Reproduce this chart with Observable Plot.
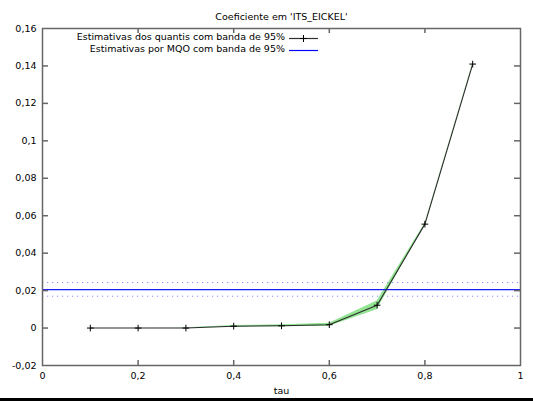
<!DOCTYPE html>
<html><head><meta charset="utf-8">
<script src="https://cdn.jsdelivr.net/npm/d3@7"></script>
<script src="https://cdn.jsdelivr.net/npm/@observablehq/plot@0.6"></script>
<style>
body{margin:0;background:#fff;font-family:"DejaVu Sans",sans-serif;}
#wrap{position:relative;width:533px;height:401px;overflow:hidden;background:#fff;}
#bar{position:absolute;left:0;top:398px;width:533px;height:3px;background:#000;}
.lg{position:absolute;left:0;width:285px;text-align:right;font-size:9.5px;line-height:12px;color:#000;white-space:nowrap;}
.sw{position:absolute;left:289px;}
</style></head><body>
<div id="wrap"><div id="chart"></div>
<div class="lg" style="top:31px" id="lg0"></div>
<div class="lg" style="top:43px" id="lg1"></div>
<svg class="sw" style="top:33px" width="32" height="10"><line x1="0" y1="5.5" x2="29" y2="5.5" stroke="#303030" stroke-width="1.2"/><path d="M11,5.5H18M14.5,2V9" stroke="#000" fill="none"/></svg>
<svg class="sw" style="top:45px" width="32" height="10"><line x1="0" y1="5.5" x2="29" y2="5.5" stroke="#0000ff" stroke-width="1.2"/></svg>
<div id="bar"></div></div>
<script>
const title = "Coeficiente em 'ITS_EICKEL'";
const xLabel = "tau";
const legendLabels = ["Estimativas dos quantis com banda de 95%", "Estimativas por MQO com banda de 95%"];
const tau  = [0.1, 0.2, 0.3, 0.4, 0.5, 0.6, 0.7, 0.8, 0.9];
const coef = [0, 0, 0, 0.0010, 0.0012, 0.0018, 0.0122, 0.0555, 0.1410];
const lo   = [0, 0, 0, 0.0006, 0.0007, 0.0010, 0.0098, 0.0551, 0.1407];
const hi   = [0, 0, 0.0001, 0.0014, 0.0017, 0.0026, 0.0144, 0.0559, 0.1413];
const olsCoef = 0.0205, olsLo = 0.0170, olsHi = 0.0243;
const xTicks = [0, 0.2, 0.4, 0.6, 0.8, 1];
const yTicks = [-0.02, 0, 0.02, 0.04, 0.06, 0.08, 0.1, 0.12, 0.14, 0.16];

document.getElementById("lg0").textContent = legendLabels[0];
document.getElementById("lg1").textContent = legendLabels[1];

const W = 533, H = 398, mL = 42, mR = 13, mT = 28, mB = 33;
const pw = W - mL - mR, ph = H - mT - mB;
const fmt = d => String(d).replace(".", ",");
const rows = tau.map((t, i) => ({tau: t, coef: coef[i], lo: lo[i], hi: hi[i]}));
const xInner = xTicks.slice(1, -1);
const yInner = yTicks.slice(1, -1);

const chart = Plot.plot({
  width: W, height: H,
  marginLeft: mL, marginRight: mR, marginTop: mT, marginBottom: mB,
  style: {fontFamily: "DejaVu Sans", fontSize: "9.5px", color: "#000", background: "#fff"},
  x: {domain: [0, 1]},
  y: {domain: [-0.02, 0.16]},
  marks: [
    Plot.areaY(rows, {x: "tau", y1: "lo", y2: "hi", fill: "#80e080", fillOpacity: 0.85}),
    Plot.ruleY([olsLo, olsHi], {stroke: "#8c8cff", strokeDasharray: "1.2,3.8"}),
    Plot.ruleY([olsCoef], {stroke: "#1a1aff", strokeWidth: 1.2}),
    Plot.line(rows, {x: "tau", y: "coef", stroke: "#2a2a2a", strokeWidth: 1.1}),
    Plot.dot(rows, {x: "tau", y: "coef", symbol: "plus", r: 2.3, stroke: "#000", strokeWidth: 1}),
    Plot.tickX(xInner, {x: d => d, insetTop: ph - 5, stroke: "#666", strokeWidth: 1.5}),
    Plot.tickX(xInner, {x: d => d, insetBottom: ph - 5, stroke: "#666", strokeWidth: 1.5}),
    Plot.tickY(yInner, {y: d => d, insetRight: pw - 6, stroke: "#666", strokeWidth: 1.5}),
    Plot.tickY(yInner, {y: d => d, insetLeft: pw - 6, stroke: "#666", strokeWidth: 1.5}),
    Plot.frame({stroke: "#666", strokeWidth: 1.5}),
    Plot.axisX(xTicks, {tickSize: 0, tickPadding: 7, tickFormat: fmt, label: null}),
    Plot.axisY(yTicks, {tickSize: 0, tickPadding: 6, tickFormat: fmt, label: null}),
    Plot.text([xLabel], {frameAnchor: "bottom", dy: 28, fill: "#000"}),
    Plot.text([title], {frameAnchor: "top", dy: -15, fill: "#000"})
  ]
});
document.getElementById("chart").appendChild(chart);
</script>
</body></html>
